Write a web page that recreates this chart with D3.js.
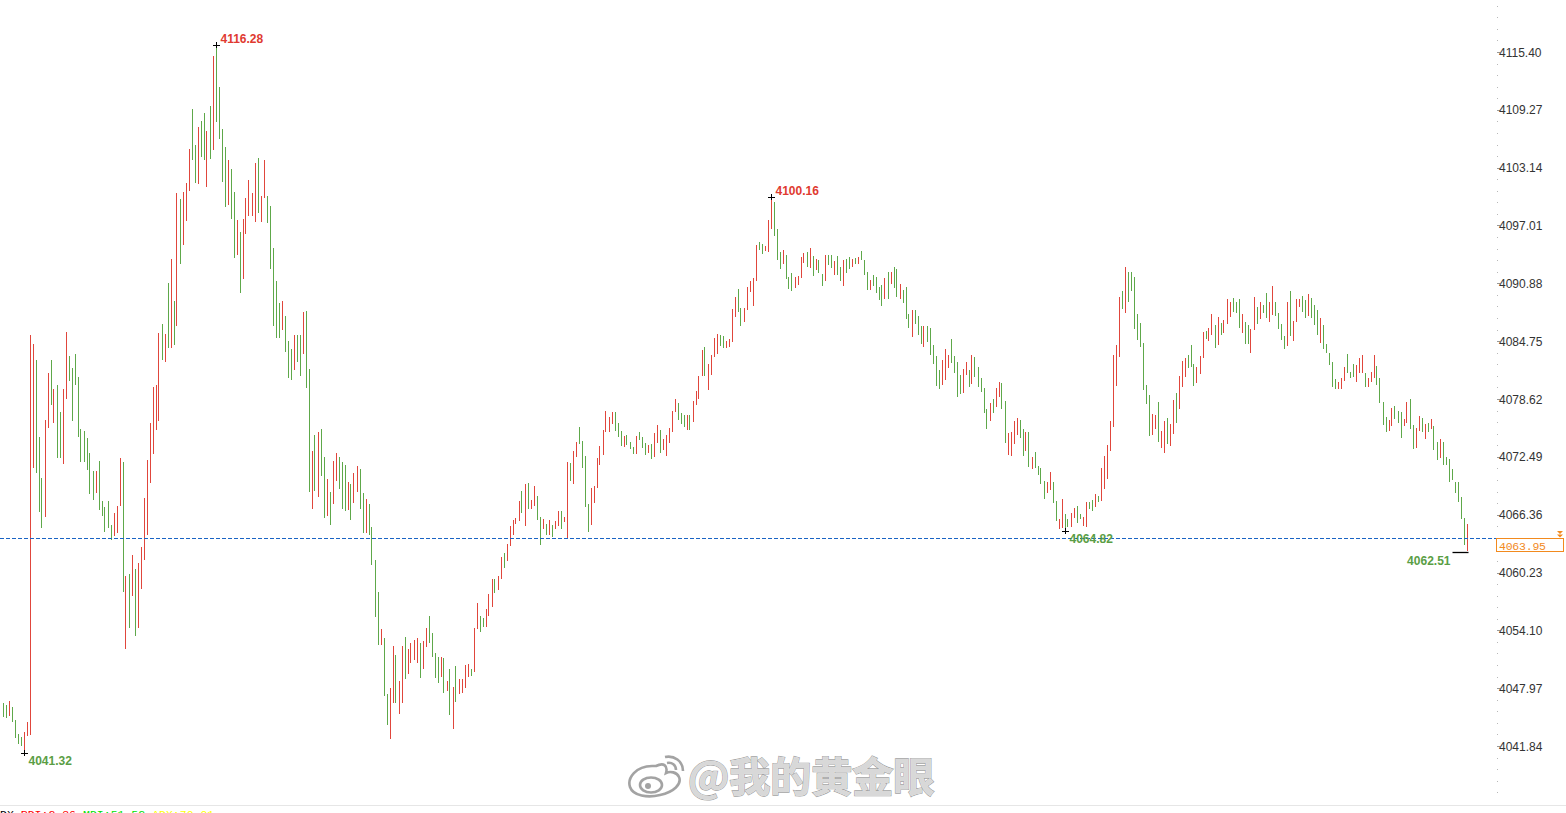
<!DOCTYPE html>
<html>
<head>
<meta charset="utf-8">
<script src="https://cdn.jsdelivr.net/npm/d3@7/dist/d3.min.js"></script>
<style>
html,body{margin:0;padding:0;background:#fff;overflow:hidden;}
svg{display:block;}
</style>
</head>
<body>
<svg id="chart" width="1566" height="813"></svg>
<script>
// ---------------- DATA ----------------
const highs = [
4046.39,4046.18,4046.60,4045.97,4044.59,4043.11,4042.79,4043.32,4044.38,4085.40,
4084.45,4082.75,4074.59,4070.24,4076.39,4081.37,4082.75,4079.68,4080.10,4077.24,
4079.68,4085.72,4083.17,4081.90,4083.39,4080.95,4075.44,4075.22,4074.48,4072.89,
4070.98,4070.98,4072.04,4067.80,4067.17,4067.80,4065.26,4066.53,4067.27,4072.36,
4071.94,4059.85,4060.07,4062.08,4060.60,4061.23,4062.93,4068.12,4072.15,4076.07,
4079.89,4080.10,4085.61,4086.57,4085.51,4090.91,4093.46,4089.00,4100.45,4099.82,
4100.56,4101.51,4105.12,4109.36,4105.54,4107.45,4108.08,4108.93,4107.02,4109.67,
4114.97,4116.28,4111.69,4107.24,4105.33,4103.95,4103.00,4100.56,4097.59,4096.32,
4097.70,4099.92,4101.83,4100.45,4103.63,4104.16,4100.13,4103.95,4100.13,4099.07,
4094.62,4091.12,4088.79,4089.00,4087.41,4084.76,4083.92,4085.40,4085.40,4085.40,
4087.84,4087.94,4081.80,4073.10,4074.80,4075.12,4075.44,4072.47,4070.14,4068.76,
4072.04,4072.89,4072.47,4071.94,4071.62,4069.82,4069.61,4070.77,4071.51,4071.20,
4068.65,4068.02,4067.49,4065.05,4061.55,4058.16,4054.24,4053.28,4047.35,4047.98,
4052.43,4051.48,4048.72,4052.43,4053.39,4052.12,4052.75,4053.07,4053.28,4052.75,
4052.96,4054.35,4055.61,4053.81,4051.69,4051.27,4051.27,4051.16,4048.72,4049.99,
4048.09,4050.31,4048.94,4048.94,4050.42,4050.53,4049.99,4054.35,4056.99,4055.61,
4055.40,4056.36,4057.95,4059.54,4059.54,4059.85,4061.87,4062.29,4063.25,4065.15,
4065.79,4066.00,4067.80,4068.86,4069.61,4069.71,4067.91,4069.39,4068.33,4066.11,
4065.90,4065.37,4065.79,4065.26,4065.68,4066.74,4066.74,4066.11,4071.94,4071.83,
4073.10,4074.06,4075.65,4074.16,4072.57,4067.49,4069.18,4069.39,4072.36,4073.63,
4075.33,4077.34,4076.71,4077.24,4077.24,4076.07,4075.22,4074.69,4074.80,4074.06,
4073.53,4074.69,4075.12,4074.59,4073.95,4073.74,4073.85,4075.01,4075.86,4075.33,
4074.38,4074.80,4075.54,4077.34,4078.62,4078.19,4077.13,4076.92,4076.92,4076.92,
4078.40,4079.46,4081.05,4083.81,4084.13,4082.33,4083.28,4085.08,4085.51,4085.40,
4085.29,4084.76,4084.98,4088.16,4089.43,4090.28,4088.26,4088.26,4090.49,4091.12,
4091.44,4094.94,4095.26,4095.05,4094.83,4097.59,4100.16,4099.50,4096.64,4094.20,
4094.41,4093.88,4091.55,4091.97,4091.55,4091.65,4093.67,4094.09,4094.20,4094.62,
4093.77,4093.46,4093.35,4091.87,4093.88,4093.88,4093.88,4093.24,4093.77,4092.61,
4093.35,4093.46,4093.67,4093.46,4093.56,4093.67,4094.30,4093.35,4092.08,4091.23,
4091.76,4091.55,4090.49,4090.70,4091.44,4092.08,4092.08,4092.61,4092.40,4090.81,
4090.17,4090.49,4087.63,4088.05,4088.05,4087.41,4086.35,4086.35,4086.35,4086.14,
4084.34,4083.17,4081.69,4082.75,4083.92,4083.28,4084.98,4083.17,4082.54,4081.16,
4081.80,4082.54,4081.69,4083.28,4083.07,4082.01,4080.84,4079.78,4077.56,4078.19,
4078.62,4079.78,4080.42,4080.31,4078.40,4075.01,4075.12,4076.28,4076.60,4076.39,
4075.44,4075.12,4075.12,4072.47,4073.00,4071.51,4071.30,4069.92,4069.82,4070.88,
4069.82,4067.80,4065.90,4068.02,4066.43,4065.90,4066.53,4067.06,4067.27,4066.43,
4066.11,4067.70,4067.70,4067.91,4068.55,4068.33,4071.30,4072.57,4073.74,4076.28,
4083.28,4084.34,4089.43,4090.06,4092.61,4092.08,4092.08,4091.55,4087.63,4086.67,
4084.55,4080.10,4079.04,4077.03,4076.92,4078.30,4075.22,4076.28,4076.60,4075.97,
4078.51,4079.25,4081.05,4082.64,4082.96,4083.28,4084.34,4082.33,4082.01,4083.17,
4085.72,4085.82,4086.14,4087.63,4086.46,4087.31,4086.67,4086.99,4089.22,4088.90,
4089.32,4088.90,4089.22,4087.63,4086.78,4086.46,4086.04,4089.43,4088.37,4088.90,
4088.58,4089.85,4088.90,4090.59,4088.90,4087.73,4086.57,4085.29,4088.90,4090.06,
4086.88,4089.22,4089.22,4089.53,4089.11,4089.75,4089.32,4088.58,4088.05,4087.20,
4086.46,4084.45,4083.49,4082.54,4080.74,4080.42,4080.84,4082.01,4083.39,4081.48,
4082.33,4082.22,4082.96,4083.28,4081.37,4080.84,4081.48,4083.28,4082.11,4080.84,
4078.30,4076.71,4076.39,4077.66,4077.87,4077.34,4077.24,4076.50,4078.30,4078.62,
4075.86,4075.54,4076.81,4076.60,4075.97,4076.07,4076.50,4075.75,4074.06,4074.38,
4074.06,4072.47,4072.26,4071.20,4069.82,4069.82,4068.23,4066.00,4065.37
];
const lows = [
4044.91,4044.80,4045.01,4044.38,4042.68,4042.05,4041.84,4041.32,4042.89,4043.00,
4071.30,4070.77,4066.64,4064.94,4066.11,4075.54,4077.98,4076.07,4072.36,4072.36,
4071.73,4078.62,4080.52,4076.28,4080.10,4074.59,4071.94,4071.94,4071.09,4068.55,
4067.91,4068.65,4066.85,4066.21,4064.52,4064.94,4063.67,4064.09,4064.41,4067.27,
4058.16,4052.12,4054.35,4057.73,4053.50,4054.35,4058.48,4061.55,4064.20,4069.71,
4072.79,4075.33,4076.28,4082.75,4082.54,4084.02,4084.02,4084.34,4086.35,4092.93,
4094.94,4097.48,4100.66,4103.95,4101.51,4101.41,4104.27,4103.95,4101.09,4104.06,
4105.01,4107.98,4106.18,4101.62,4098.96,4099.18,4097.70,4093.56,4093.88,4089.85,
4091.34,4096.11,4098.01,4098.01,4097.38,4098.33,4097.38,4099.92,4097.27,4092.40,
4086.35,4085.08,4085.08,4085.93,4083.60,4080.84,4080.63,4081.69,4082.54,4081.05,
4083.39,4079.78,4068.76,4066.96,4068.86,4068.23,4070.45,4066.00,4066.21,4065.26,
4067.49,4069.92,4069.08,4066.96,4066.74,4066.85,4065.79,4067.59,4068.76,4066.96,
4064.41,4064.41,4064.20,4061.02,4055.51,4052.54,4052.54,4047.13,4044.06,4042.57,
4046.39,4046.39,4045.23,4046.39,4048.94,4049.47,4050.63,4050.95,4050.63,4049.04,
4049.99,4052.33,4052.75,4051.27,4049.04,4048.51,4049.15,4047.45,4047.66,4045.12,
4043.64,4046.50,4047.35,4047.45,4047.98,4049.15,4049.25,4049.68,4054.24,4053.92,
4054.45,4054.45,4055.61,4056.57,4058.05,4058.37,4059.54,4060.70,4061.44,4063.03,
4064.20,4065.37,4065.68,4066.53,4065.15,4066.96,4066.96,4067.27,4065.79,4063.14,
4064.84,4064.20,4064.20,4063.99,4064.84,4065.15,4064.84,4065.58,4063.78,4069.92,
4069.61,4072.47,4073.85,4071.30,4067.17,4064.52,4065.26,4067.59,4069.18,4071.62,
4072.68,4075.12,4075.12,4075.97,4075.22,4074.59,4073.63,4073.53,4073.74,4073.32,
4072.79,4072.79,4074.27,4073.42,4072.68,4072.89,4072.26,4072.47,4073.95,4072.89,
4073.21,4072.57,4073.95,4075.12,4077.24,4076.39,4075.97,4075.65,4075.33,4075.33,
4076.18,4077.98,4078.62,4081.05,4081.05,4079.57,4081.16,4083.07,4083.39,4084.23,
4084.02,4084.02,4084.13,4084.66,4087.31,4087.84,4086.35,4086.78,4088.05,4089.96,
4088.47,4091.12,4094.41,4093.99,4094.30,4094.20,4096.64,4095.89,4093.35,4092.40,
4092.93,4091.34,4090.28,4090.06,4090.38,4090.70,4091.44,4093.03,4092.61,4092.50,
4091.65,4092.29,4091.97,4090.59,4091.12,4092.82,4092.50,4091.76,4091.76,4091.12,
4090.59,4091.97,4092.40,4092.61,4092.93,4092.93,4093.35,4091.76,4090.17,4090.17,
4090.59,4089.85,4089.11,4088.47,4089.22,4089.22,4090.81,4090.38,4089.43,4089.22,
4088.79,4087.10,4086.14,4085.19,4086.57,4085.40,4084.45,4084.13,4084.66,4083.28,
4082.33,4079.99,4079.68,4080.10,4080.63,4081.90,4082.43,4081.37,4078.83,4079.15,
4079.25,4081.16,4079.89,4080.21,4080.95,4079.89,4079.36,4077.13,4075.44,4076.28,
4077.13,4077.77,4078.83,4077.56,4073.95,4072.68,4072.57,4073.85,4074.80,4074.48,
4072.57,4073.10,4071.41,4071.20,4071.30,4070.56,4069.61,4068.02,4068.65,4068.97,
4067.59,4065.68,4064.84,4064.94,4064.82,4065.05,4065.05,4066.00,4065.47,4065.90,
4065.15,4065.05,4066.96,4066.74,4067.17,4067.70,4067.80,4069.08,4070.14,4073.10,
4075.65,4079.99,4083.07,4088.16,4087.73,4088.90,4090.06,4086.04,4084.87,4084.13,
4079.57,4078.09,4074.69,4074.80,4075.44,4074.06,4073.42,4072.89,4073.85,4073.63,
4074.91,4076.07,4077.56,4079.89,4080.95,4081.90,4082.01,4079.99,4080.31,4081.27,
4082.96,4084.98,4084.76,4085.40,4084.02,4084.34,4085.40,4085.61,4086.57,4087.31,
4087.84,4087.73,4086.14,4085.61,4084.45,4084.45,4083.49,4085.93,4086.57,4087.10,
4087.73,4087.20,4086.78,4087.52,4087.41,4086.04,4084.87,4083.92,4084.23,4085.29,
4084.76,4086.78,4088.37,4087.84,4087.20,4087.41,4087.20,4086.46,4085.40,4084.55,
4083.92,4083.49,4082.22,4079.89,4079.68,4079.68,4079.68,4080.52,4081.37,4080.84,
4080.95,4080.42,4081.37,4081.37,4079.89,4079.89,4080.42,4080.84,4080.10,4078.19,
4075.86,4075.12,4075.22,4075.75,4076.50,4076.07,4074.48,4075.75,4076.07,4075.44,
4073.32,4073.42,4075.22,4075.12,4074.38,4075.12,4075.44,4073.21,4072.15,4072.36,
4071.62,4071.62,4069.82,4070.03,4068.65,4067.70,4065.90,4063.14,4062.51
];
// u = rising bar, d = falling bar
const dirs = (
"ddudddduuu"+"uddduududd"+"uudddddddd"+"duddddduuu"+"dududuuuuu"+
"uuudududud"+"uuudduddud"+"udddduddud"+"uuuuuduudd"+"dddudddudd"+
"uddududdud"+"uuddduduud"+"dudddduddu"+"uduuduuuud"+"uuddddudud"+
"uduuuuduud"+"duuuduuduu"+"uuududuudd"+"ududuuduud"+"uudddduuuu"+
"uuuudddudd"+"duddduduud"+"uuuuudddud"+"uuuuduuuud"+"duuuudduuu"+
"uudduuuddd"+"uddduuuudu"+"dudduddudd"+"uddududddu"+"ddddududdu"+
"dddudddudd"+"ddduuudddd"+"uududddddu"+"duudduuuud"+"dududdddu"+"u"+
"dduudduudd"+"uudduduuuu"+"uuududdddd"+"ddduuduudu"+"uduuuddduu"+
"uduududuuu"+"dddudduudu"+"dduuddddud"+"uuuddudddu"+"ddddduuudd"+
"duuuduuudd"+"dduuddduud"+"duudududdu"+"ddddddddu"
).split("");

const yTicks = [4115.40,4109.27,4103.14,4097.01,4090.88,4084.75,4078.62,4072.49,4066.36,4060.23,4054.10,4047.97,4041.84];
const tickStep = 6.13;
const highMarks = [71, 256];
const lowMarks = [7, 354];
const lastLowMark = 488;
const lastPrice = 4063.95;
const indicatorLabels = [
  {t:"DX", c:"#000000"},
  {t:"PDI:2.36", c:"#ff0000"},
  {t:"MDI:51.52", c:"#00e000"},
  {t:"ADX:70.01", c:"#ffff00"}
];
const watermarkText = "@我的黄金眼";

// ---------------- CHART ----------------
const svg = d3.select("#chart");
const W = 1566, H = 813;
svg.append("rect").attr("width", W).attr("height", H).attr("fill", "#fff");

const x = d3.scaleLinear().domain([0, highs.length - 1]).range([2.5, 1466.5]);
const y = d3.scaleLinear().domain([4041.84, 4115.40]).range([746, 52]);

const RED = "#e0463c", GREEN = "#5ea84a";
const LBL_RED = "#e03a30", LBL_GREEN = "#5a9e45";

// bottom separator
svg.append("line").attr("x1", 0).attr("x2", W).attr("y1", 805.5).attr("y2", 805.5)
  .attr("stroke", "#e6e6e6").attr("stroke-width", 1);

// right axis: minor dots + major ticks + labels
const minorVals = d3.range(-10, 80).map(k => 4041.84 + k * tickStep / 5)
  .filter(v => y(v) > 0 && y(v) < 800);
svg.append("g").selectAll("rect").data(minorVals).join("rect")
  .attr("x", 1497).attr("y", d => Math.round(y(d))).attr("width", 1).attr("height", 1)
  .attr("fill", "#b8b8b8");
const axisG = svg.append("g");
axisG.selectAll("line").data(yTicks).join("line")
  .attr("x1", 1497).attr("x2", 1500)
  .attr("y1", d => Math.round(y(d)) + 0.5).attr("y2", d => Math.round(y(d)) + 0.5)
  .attr("stroke", "#999").attr("stroke-width", 1);
axisG.selectAll("text").data(yTicks).join("text")
  .attr("x", 1499).attr("y", d => y(d) + 4.5)
  .attr("font-family", "Liberation Sans, Arial, sans-serif").attr("font-size", 12)
  .attr("fill", "#333").text(d => d.toFixed(2));

// watermark
const wm = svg.append("g").attr("opacity", 0.9);
const logo = wm.append("g").attr("fill", "none").attr("stroke", "#9a9a9a").attr("stroke-width", 2.6);
logo.append("path").attr("d", "M652,766 C636,766 627,778 630,787 C633,796 648,798 660,795 C674,792 682,784 679,777 C677,772 670,771 666,773 C668,766 664,762 656,766 Z")
  .attr("fill", "#fff");
logo.append("ellipse").attr("cx", 651).attr("cy", 785).attr("rx", 11).attr("ry", 7.5).attr("fill", "#fff");
logo.append("circle").attr("cx", 648).attr("cy", 786).attr("r", 3).attr("fill", "#9a9a9a").attr("stroke", "none");
logo.append("path").attr("d", "M665,757 C674,755 683,761 683,771");
logo.append("path").attr("d", "M667,763 C672,762 676,765 676,770");
wm.append("text").attr("x", 688).attr("y", 792)
  .attr("font-family", "Noto Sans CJK SC, sans-serif").attr("font-size", 41).attr("font-weight", 700)
  .attr("fill", "#ffffff").attr("stroke", "#9a9a9a").attr("stroke-width", 1.6)
  .attr("paint-order", "stroke").text(watermarkText);
wm.append("text").attr("x", 688).attr("y", 792)
  .attr("font-family", "Noto Sans CJK SC, sans-serif").attr("font-size", 41).attr("font-weight", 700)
  .attr("fill", "#d4d4d4").text(watermarkText);

// bars
const bars = highs.map((h, i) => ({i, h, l: lows[i], d: dirs[i]}));
svg.append("g").attr("shape-rendering", "crispEdges").selectAll("line").data(bars).join("line")
  .attr("x1", d => Math.round(x(d.i)) + 0.5).attr("x2", d => Math.round(x(d.i)) + 0.5)
  .attr("y1", d => y(d.h)).attr("y2", d => y(d.l))
  .attr("stroke", d => d.d === "u" ? RED : GREEN).attr("stroke-width", 1);

// current price line
const yp = y(lastPrice);
svg.append("line").attr("x1", 0).attr("x2", 1497).attr("y1", Math.round(yp) + 1.5).attr("y2", Math.round(yp) + 1.5)
  .attr("stroke", "#1a64c4").attr("stroke-width", 1).attr("stroke-dasharray", "4,2")
  .attr("shape-rendering", "crispEdges");
svg.append("rect").attr("x", 1496.5).attr("y", Math.round(yp) + 1.5).attr("width", 67).attr("height", 13)
  .attr("fill", "#fff").attr("stroke", "#f28a1e").attr("stroke-width", 1);
svg.append("text").attr("x", 1499).attr("y", Math.round(yp) + 12.5)
  .attr("font-family", "Liberation Mono, DejaVu Sans Mono, monospace").attr("font-size", 11.5)
  .attr("fill", "#f28a1e").attr("textLength", 47).attr("lengthAdjust", "spacing")
  .text(lastPrice.toFixed(2));
const ty = Math.round(yp) - 6;
svg.append("path").attr("d", `M1557,${ty} L1563,${ty} L1560,${ty+3} Z M1557,${ty+3.5} L1563,${ty+3.5} L1560,${ty+6.5} Z`)
  .attr("fill", "#f28a1e");

// annotations
const annoFont = "Liberation Sans, Arial, sans-serif";
function cross(cx, cy) {
  const g = svg.append("g").attr("stroke", "#000").attr("stroke-width", 1).attr("shape-rendering", "crispEdges");
  g.append("line").attr("x1", cx - 3.5).attr("x2", cx + 3.5).attr("y1", Math.round(cy) + 0.5).attr("y2", Math.round(cy) + 0.5);
  g.append("line").attr("x1", cx).attr("x2", cx).attr("y1", cy - 3).attr("y2", cy + 3);
}
highMarks.forEach(i => {
  const cx = Math.round(x(i)) + 0.5, cy = y(highs[i]) + 1.5;
  cross(cx, cy);
  svg.append("text").attr("x", cx + 4).attr("y", cy - 2.5)
    .attr("font-family", annoFont).attr("font-size", 12).attr("font-weight", 700)
    .attr("fill", LBL_RED).text(highs[i].toFixed(2));
});
lowMarks.forEach(i => {
  const cx = Math.round(x(i)) + 0.5, cy = y(lows[i]) + 2;
  cross(cx, cy);
  svg.append("text").attr("x", cx + 4).attr("y", cy + 12)
    .attr("font-family", annoFont).attr("font-size", 12).attr("font-weight", 700)
    .attr("fill", LBL_GREEN).text(lows[i].toFixed(2));
});
{
  const i = lastLowMark;
  const cx = Math.round(x(i)) + 0.5, cy = y(lows[i]) + 1.5;
  svg.append("line").attr("x1", cx - 15).attr("x2", cx + 1).attr("y1", Math.round(cy) + 0.5).attr("y2", Math.round(cy) + 0.5)
    .attr("stroke", "#000").attr("stroke-width", 1.3);
  svg.append("text").attr("x", cx - 17).attr("y", cy + 13).attr("text-anchor", "end")
    .attr("font-family", annoFont).attr("font-size", 12).attr("font-weight", 700)
    .attr("fill", LBL_GREEN).text(lows[i].toFixed(2));
}

// indicator strip (cut at bottom, as in the reference)
let ix = 0;
const indG = svg.append("g");
indicatorLabels.forEach((d, k) => {
  const t = indG.append("text").attr("x", ix).attr("y", 818)
    .attr("font-family", "Liberation Mono, DejaVu Sans Mono, monospace").attr("font-size", 11.5)
    .attr("fill", d.c).text(d.t);
  ix += t.node().getComputedTextLength() + 7;
});
</script>
</body>
</html>
